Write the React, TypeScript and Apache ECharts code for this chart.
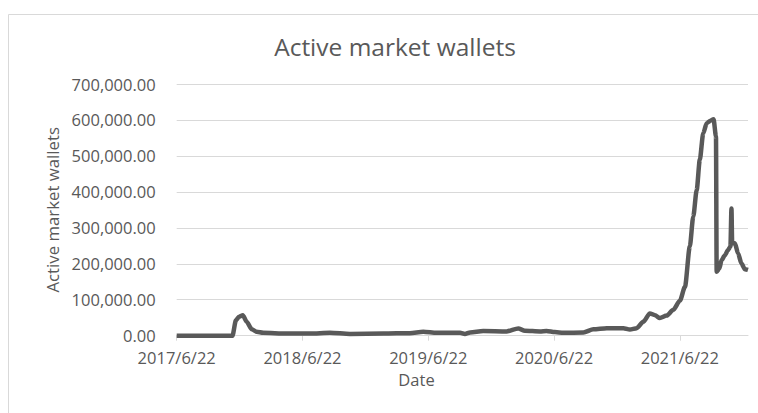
import React, { useEffect, useRef } from "react";
import * as echarts from "echarts";

const title = "Active market wallets";
const yAxisName = "Active market wallets";
const xAxisName = "Date";
const startDate = "2017-06-22";

const dates = [
  "2017-06-22", "2017-12-01", "2017-12-11", "2017-12-20", "2017-12-31", "2018-01-11",
  "2018-01-26", "2018-02-09", "2018-02-28", "2018-05-07", "2018-07-14", "2018-09-10",
  "2018-11-07", "2019-02-12", "2019-04-30", "2019-06-08", "2019-07-17", "2019-09-23",
  "2019-10-07", "2019-10-22", "2019-11-29", "2020-02-05", "2020-03-10", "2020-03-29",
  "2020-05-12", "2020-05-31", "2020-06-24", "2020-07-19", "2020-09-15", "2020-10-14",
  "2020-11-22", "2021-01-09", "2021-01-28", "2021-02-17", "2021-03-08", "2021-03-27",
  "2021-04-11", "2021-04-25", "2021-05-15", "2021-06-03", "2021-06-22", "2021-07-07",
  "2021-07-21", "2021-07-31", "2021-08-10", "2021-08-19", "2021-08-29", "2021-09-08",
  "2021-09-19", "2021-09-28", "2021-10-05", "2021-10-07", "2021-10-15", "2021-10-21",
  "2021-10-31", "2021-11-09", "2021-11-16", "2021-11-19", "2021-11-21", "2021-11-29",
  "2021-12-08", "2021-12-18", "2021-12-28", "2022-01-06",
];

const wallets = [
  0, 0, 43000, 53000, 57000, 39000,
  18000, 11000, 8000, 6000, 6000, 8000,
  5000, 6000, 7000, 11000, 8000, 8000,
  5000, 9000, 13000, 12000, 20000, 14000,
  12000, 13000, 10000, 8000, 9000, 18000,
  21000, 21000, 17000, 21000, 39000, 62000,
  57000, 49000, 56000, 72000, 97000, 136000,
  248000, 331000, 405000, 489000, 563000, 591000,
  598000, 602000, 554000, 178000, 187000, 210000,
  224000, 238000, 248000, 354000, 257000, 257000,
  229000, 201000, 185000, 183000,
];

const yTicks = [0, 100000, 200000, 300000, 400000, 500000, 600000, 700000];

const DAY = 86400000;
const YEAR_DAYS = 365.25;

function toDays(d: string): number {
  const [y, m, dd] = d.split("-").map(Number);
  const [sy, sm, sd] = startDate.split("-").map(Number);
  return (Date.UTC(y, m - 1, dd) - Date.UTC(sy, sm - 1, sd)) / DAY;
}

export default function App() {
  const ref = useRef<HTMLDivElement>(null);
  useEffect(() => {
    if (!ref.current) return;
    const chart = echarts.init(ref.current, undefined, { renderer: "svg" });
    const data = dates.map((d, i) => [toDays(d), wallets[i]]);
    const maxDay = toDays(dates[dates.length - 1]);
    const font = "'Open Sans', 'Noto Sans', sans-serif";
    chart.setOption({
      animation: false,
      backgroundColor: "#ffffff",
      title: {
        text: title,
        left: 390,
        top: 29,
        textAlign: "center",
        textStyle: { fontFamily: font, fontSize: 24.5, fontWeight: "normal", color: "#595959" },
      },
      graphic: [
        {
          type: "rect",
          shape: { x: 8.5, y: 14.5, width: 780, height: 420 },
          style: { fill: "none", stroke: "#d9d9d9", lineWidth: 1 },
          z: -1,
        },
        {
          type: "text",
          x: 416.5,
          y: 379,
          style: {
            text: xAxisName,
            fontFamily: font,
            fontSize: 16.5,
            fill: "#595959",
            align: "center",
            verticalAlign: "middle",
          },
        },
      ],
      grid: { left: 176.7, right: 10, top: 84, bottom: 77.3, containLabel: false },
      xAxis: {
        type: "value",
        min: 0,
        max: maxDay,
        interval: YEAR_DAYS,
        axisLine: { show: true, lineStyle: { color: "#d9d9d9", width: 1 } },
        axisTick: { show: true, length: 5, lineStyle: { color: "#d9d9d9" } },
        splitLine: { show: false },
        axisLabel: {
          showMaxLabel: false,
          margin: 13,
          fontFamily: font,
          fontSize: 16.5,
          color: "#595959",
          formatter: (v: number) => `${2017 + Math.round(v / YEAR_DAYS)}/6/22`,
        },
      },
      yAxis: {
        type: "value",
        min: yTicks[0],
        max: yTicks[yTicks.length - 1],
        interval: yTicks[1] - yTicks[0],
        name: yAxisName,
        nameLocation: "middle",
        nameRotate: 90,
        nameGap: 116,
        nameTextStyle: { fontFamily: font, fontSize: 16.8, color: "#595959" },
        axisLine: { show: false },
        axisTick: { show: false },
        splitLine: { lineStyle: { color: "#d9d9d9", width: 1 } },
        axisLabel: {
          margin: 21,
          fontFamily: font,
          fontSize: 16.5,
          color: "#595959",
          formatter: (v: number) =>
            v.toLocaleString("en-US", { minimumFractionDigits: 2, maximumFractionDigits: 2 }),
        },
      },
      series: [
        {
          type: "line",
          data,
          showSymbol: false,
          smooth: 0.25,
          smoothMonotone: "x",
          lineStyle: { color: "#595959", width: 4.5 },
          itemStyle: { color: "#595959" },
        },
      ],
    });
    return () => chart.dispose();
  }, []);
  return (
    <div
      ref={ref}
      style={{ position: "fixed", left: 0, top: 0, width: 758, height: 413, background: "#fff" }}
    />
  );
}
